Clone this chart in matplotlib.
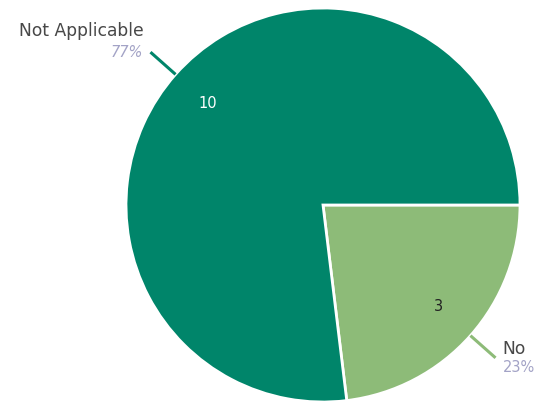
import numpy as np
import matplotlib
matplotlib.use("Agg")
import matplotlib.pyplot as plt

categories = ["No", "Not Applicable"]
values = [3, 10]
percent_labels = ["23%", "77%"]
colors = ["#8DBB78", "#00856A"]
value_text_colors = ["#222222", "#FFFFFF"]

plt.rcParams['font.family'] = ['DejaVu Sans']

W, H = 542, 401
fig = plt.figure(figsize=(W / 100, H / 100), dpi=100)
cx, cy, R = 323, 205, 197
ax = fig.add_axes([(cx - R) / W, (H - cy - R) / H, 2 * R / W, 2 * R / H])

wedges, _ = ax.pie(values, colors=colors, startangle=0, counterclock=False,
                   radius=1.0, wedgeprops=dict(edgecolor="white", linewidth=2))
ax.set_xlim(-1, 1)
ax.set_ylim(-1, 1)
ax.set_aspect("auto")
ax.axis("off")

px = 1.0 / R  # one pixel in data units
for w, cat, pct, val, tc in zip(wedges, categories, percent_labels, values, value_text_colors):
    mid = np.deg2rad((w.theta1 + w.theta2) / 2)
    c, s = np.cos(mid), np.sin(mid)
    ax.text(0.78 * c, 0.78 * s, str(val), ha="center", va="center",
            color=tc, fontsize=10.5)
    ax.plot([1.0 * c, 1.17 * c], [1.0 * s, 1.17 * s], color=w.get_facecolor(),
            lw=2.2, solid_capstyle="butt", clip_on=False)
    ex, ey = 1.17 * c, 1.17 * s
    if c > 0:
        tx, ha = ex + 7 * px, "left"
        name_dy, pct_dy = 9 * px, -10 * px
        pstyle = "normal"
    else:
        tx, ha = ex - 7 * px, "right"
        name_dy, pct_dy = 21.5 * px, 0.0
        pstyle = "italic"
    ax.text(tx, ey + name_dy, cat, ha=ha, va="center", color="#484848",
            fontsize=12.3, clip_on=False)
    ax.text(tx, ey + pct_dy, pct, ha=ha, va="center", color="#A3A3C6",
            fontsize=10.5, style=pstyle, clip_on=False)

fig.savefig("out.png", dpi=100)
